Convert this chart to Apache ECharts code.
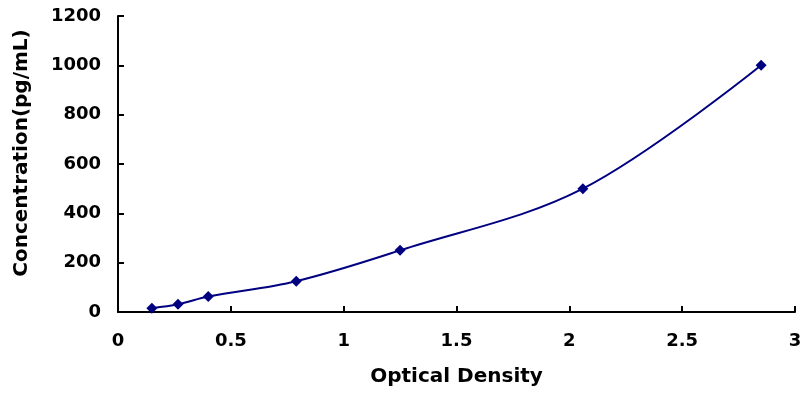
<!DOCTYPE html>
<html>
<head>
<meta charset="utf-8">
<script src="https://cdn.jsdelivr.net/npm/echarts@6/dist/echarts.min.js"></script>
<style>
  html, body { margin: 0; padding: 0; background: #fff; }
  #chart { width: 812px; height: 393px; }
</style>
</head>
<body>
<div id="chart"></div>
<script>
// standard curve data
var opticalDensity = [0.15, 0.266, 0.40, 0.79, 1.25, 2.06, 2.85];
var concentration = [15.6, 31.2, 62.5, 125, 250, 500, 1000];

var points = opticalDensity.map(function (x, i) { return [x, concentration[i]]; });

var tickFont = { color: '#000', fontWeight: 'bold', fontSize: 18, fontFamily: 'DejaVu Sans, sans-serif' };
var titleFont = { color: '#000', fontWeight: 'bold', fontSize: 20, fontFamily: 'DejaVu Sans, sans-serif' };

var chart = echarts.init(document.getElementById('chart'));
chart.setOption({
  animation: false,
  grid: { left: 118, right: 17, top: 16, bottom: 81 },
  xAxis: {
    type: 'value',
    min: 0, max: 3, interval: 0.5,
    name: 'Optical Density',
    nameLocation: 'middle',
    nameGap: 55,
    nameTextStyle: titleFont,
    axisLine: { show: true, lineStyle: { color: '#000', width: 2 } },
    axisTick: { show: true, inside: true, length: 6, lineStyle: { color: '#000', width: 2 } },
    axisLabel: Object.assign({ margin: 20, formatter: function (v) { return String(v); } }, tickFont),
    splitLine: { show: false }
  },
  yAxis: {
    type: 'value',
    min: 0, max: 1200, interval: 200,
    name: 'Concentration(pg/mL)',
    nameLocation: 'middle',
    nameGap: 86,
    nameTextStyle: Object.assign({ padding: [0, 0, 0, 22] }, titleFont),
    axisLine: { show: true, lineStyle: { color: '#000', width: 2 } },
    axisTick: { show: true, inside: true, length: 6, lineStyle: { color: '#000', width: 2 } },
    axisLabel: Object.assign({ margin: 17, formatter: function (v) { return String(v); } }, tickFont),
    splitLine: { show: false }
  },
  series: [{
    type: 'line',
    data: points,
    smooth: 0.35,
    symbol: 'diamond',
    symbolSize: 11,
    lineStyle: { color: '#000080', width: 2 },
    itemStyle: { color: '#000080' }
  }]
});
</script>
</body>
</html>
